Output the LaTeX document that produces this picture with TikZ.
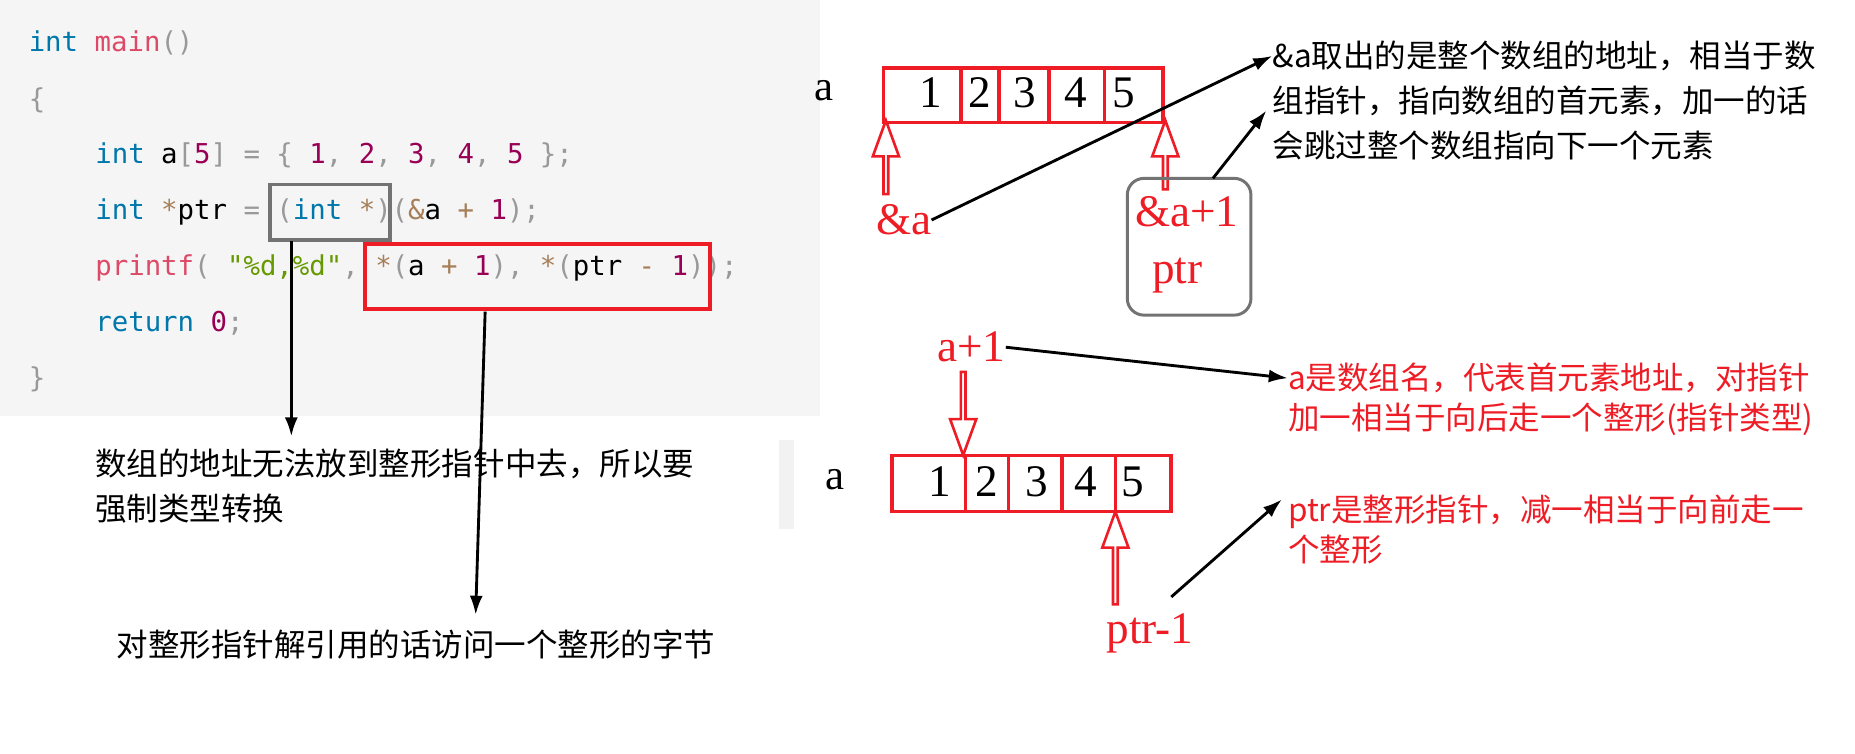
\documentclass[tikz,border=0pt]{standalone}
\usepackage{fontspec}
\setmainfont{Liberation Serif}
\newfontfamily\cjk{Noto Sans CJK SC}
\newfontfamily\codefont{DejaVu Sans Mono}
\usetikzlibrary{arrows.meta,shapes.arrows}
\definecolor{kw}{HTML}{0077AA}
\definecolor{fn}{HTML}{DD4A68}
\definecolor{num}{HTML}{990055}
\definecolor{str}{HTML}{669900}
\definecolor{op}{HTML}{A67F59}
\definecolor{pun}{HTML}{999999}
\definecolor{rd}{HTML}{EE1C25}
\begin{document}
\begin{tikzpicture}[x=1pt,y=-1pt,
  code/.style={anchor=west,inner sep=0,font=\codefont\fontsize{23}{23}\selectfont},
  cn/.style={anchor=west,inner sep=0,font=\cjk\fontsize{26.5}{26.5}\selectfont},
  cnr/.style={cn,text=rd},
  digit/.style={inner sep=0,font=\fontsize{38}{38}\selectfont},
  lbl/.style={inner sep=0,font=\fontsize{38}{38}\selectfont,text=rd},
  arr/.style={line width=2.4pt,-{Latex[length=16pt,width=11pt]}},
  hollow/.style={single arrow,draw=rd,line width=2.2pt,fill=white,minimum width=22pt,single arrow head extend=5pt,single arrow tip angle=40,inner sep=0,minimum height=#1},
  redbox/.style={draw=rd,line width=3pt}]
\useasboundingbox (0,0) rectangle (1560,634);
\fill[black!4] (0,0) rectangle (690,350);
\fill[black!5] (655,370) rectangle (668,445);
% code
\node[code] (l1) at (24,36) {\textcolor{kw}{int} \textcolor{fn}{main}\textcolor{pun}{()}};
\node[code] (l2) at (24,84) {\textcolor{pun}{\{}};
\node[code] (l3) at (80,131) {\textcolor{kw}{int} a\textcolor{pun}{[}\textcolor{num}{5}\textcolor{pun}{] = \{} \textcolor{num}{1}\textcolor{pun}{,} \textcolor{num}{2}\textcolor{pun}{,} \textcolor{num}{3}\textcolor{pun}{,} \textcolor{num}{4}\textcolor{pun}{,} \textcolor{num}{5} \textcolor{pun}{\};}};
\node[code] (l4) at (80,178) {\textcolor{kw}{int} \textcolor{op}{*}ptr \textcolor{pun}{=} \textcolor{pun}{(}\textcolor{kw}{int} \textcolor{op}{*}\textcolor{pun}{)(}\textcolor{op}{\&}a \textcolor{op}{+} \textcolor{num}{1}\textcolor{pun}{);}};
\node[code] (l5) at (80,225) {\textcolor{fn}{printf}\textcolor{pun}{(} \textcolor{str}{"\%d,\%d"}\textcolor{pun}{,} \textcolor{op}{*}\textcolor{pun}{(}a \textcolor{op}{+} \textcolor{num}{1}\textcolor{pun}{),} \textcolor{op}{*}\textcolor{pun}{(}ptr \textcolor{op}{-} \textcolor{num}{1}\textcolor{pun}{));}};
\node[code] (l6) at (80,272) {\textcolor{kw}{return} \textcolor{num}{0}\textcolor{pun}{;}};
\node[code] (l7) at (24,319) {\textcolor{pun}{\}}};
\draw[black!55,line width=3pt] (227,155) rectangle (328,202);
\draw[redbox] (307,205) rectangle (597,260);
\coordinate (g1) at (245,203);
\coordinate (r1) at (408,262);
\node[cn] (t1) at (80,390) {数组的地址无法放到整形指针中去，所以要};
\node[cn] (t1b) at (80,428) {强制类型转换};
\node[cn] (t2) at (98,542) {对整形指针解引用的话访问一个整形的字节};
\draw[arr] (g1) -- (245,367);
\draw[arr] (r1) -- (400,517);
% top array
\node[inner sep=0,font=\fontsize{36}{36}\selectfont] (A1) at (693,76) {a};
\draw[redbox] (743,57) rectangle (978,103);
\foreach \x in {808,840,882,929}{\draw[rd,line width=3pt] (\x,57) -- (\x,103);}
\foreach \n/\x in {1/783,2/824,3/862,4/905,5/945}{\node[digit] at (\x,78) {\n};}
\node[hollow=62pt,rotate=90] (h1) at (745,135) {};
\node[hollow=58pt,rotate=90] (h2) at (980,133) {};
\node[lbl] (amp) at (760,185) {\&a};
\draw[black!55,line width=2.5pt,rounded corners=14pt] (948,150) rectangle (1052,265);
\node[lbl] (ap1) at (998,178) {\&a+1};
\node[lbl] (ptr) at (990,232) {ptr};
\node[cn] (t3) at (1070,47) {\&a取出的是整个数组的地址，相当于数};
\node[cn] (t3b) at (1070,85) {组指针，指向数组的首元素，加一的话};
\node[cn] (t3c) at (1070,122) {会跳过整个数组指向下一个元素};
\coordinate (bx) at (1020,150);
\draw[arr] (amp.east) -- (t3.west);
\draw[arr] (bx) -- (1065,93);
% bottom array
\node[lbl] (a1) at (817,292) {a+1};
\node[hollow=70pt,rotate=-90] (h3) at (810,345) {};
\node[inner sep=0,font=\fontsize{36}{36}\selectfont] (A2) at (702,403) {a};
\draw[redbox] (750,383) rectangle (985,430);
\foreach \x in {812,848,893,938}{\draw[rd,line width=3pt] (\x,383) -- (\x,430);}
\foreach \n/\x in {1/790,2/830,3/872,4/913,5/953}{\node[digit] at (\x,405) {\n};}
\node[hollow=78pt,rotate=90] (h4) at (938,472) {};
\node[lbl] (pm1) at (967,533) {ptr-1};
\node[cnr] (t4) at (1083,318) {a是数组名，代表首元素地址，对指针};
\node[cnr] (t4b) at (1083,353) {加一相当于向后走一个整形(指针类型)};
\node[cnr] (t5) at (1083,430) {ptr是整形指针，减一相当于向前走一};
\node[cnr] (t5b) at (1083,462) {个整形};
\draw[arr] (a1.east) -- (t4.west);
\coordinate (pp) at (985,502);
\draw[arr] (pp) -- (1078,420);
\end{tikzpicture}
\end{document}
